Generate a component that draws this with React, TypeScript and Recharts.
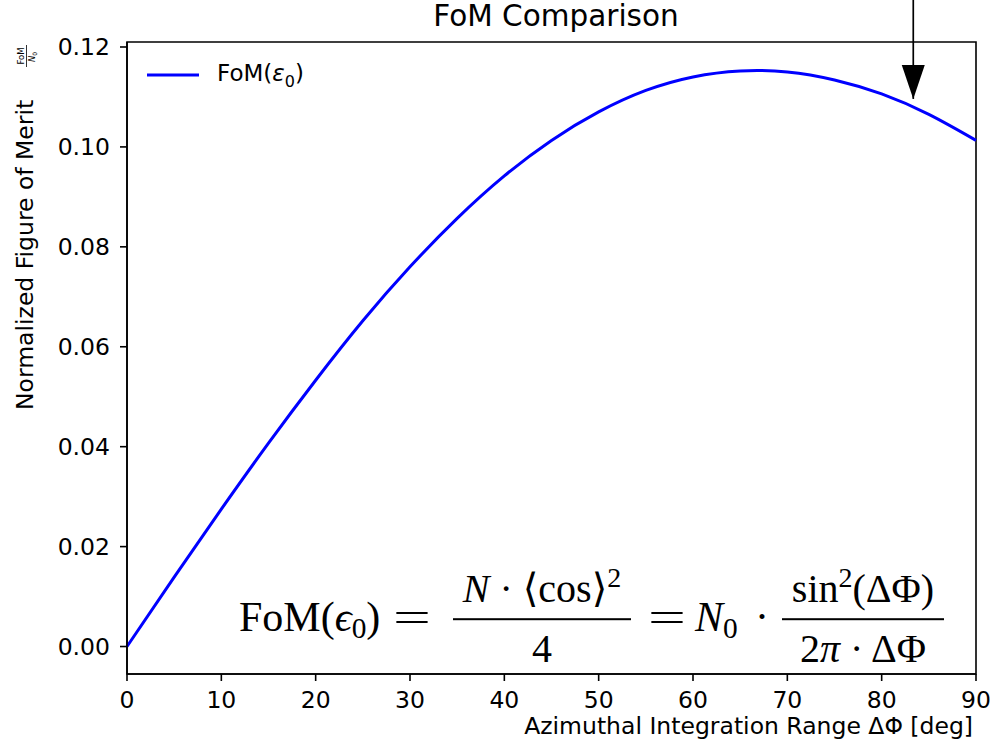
import React from 'react';
import {
  LineChart,
  Line,
  XAxis,
  YAxis,
  Legend,
  ReferenceArea,
  ReferenceLine,
  ReferenceDot,
} from 'recharts';

// azimuthal integration range in degrees
const degrees = [0, 5, 10, 15, 20, 25, 30, 35, 40, 45, 50, 55, 60, 65, 70, 75, 80, 85, 90];
// normalized FoM
const fomValues = [
  0, 0.0139, 0.0275, 0.0407, 0.0533, 0.0652, 0.076, 0.0857, 0.0942, 0.1013,
  0.107, 0.1113, 0.114, 0.1152, 0.115, 0.1134, 0.1106, 0.1065, 0.1013,
];
const xTicks = [0, 10, 20, 30, 40, 50, 60, 70, 80, 90];
const yTicks = [0, 0.02, 0.04, 0.06, 0.08, 0.1, 0.12];

// arrow annotation
const arrowX = 83.35;
const arrowTip = 0.1096;
const arrowTop = 0.1295;

const Y_MIN = -0.0055;
const Y_MAX = 0.121;

const data = degrees.map((d, i) => ({ deg: d, fom: fomValues[i] }));

const FONT = '"DejaVu Sans", sans-serif';
const SERIF = '"Liberation Serif", "DejaVu Serif", serif';

const tickStyle = { fontSize: 23.5, fill: '#000', fontFamily: FONT };

const YLabel = () => (
  <g fontFamily={FONT} fill="#000">
    <text transform="translate(33,410) rotate(-90)" fontSize={23.5}>
      Normalized Figure of Merit
    </text>
    <text transform="translate(24,56) rotate(-90)" fontSize={8.5} textAnchor="middle">
      FoM
    </text>
    <line x1={26.5} x2={26.5} y1={45} y2={67} stroke="#000" strokeWidth={0.8} />
    <text transform="translate(35,57) rotate(-90)" fontSize={8.5} textAnchor="middle">
      <tspan fontStyle="italic">N</tspan>
      <tspan fontSize={6} dy={1.5}>0</tspan>
    </text>
  </g>
);

const XLabel = () => (
  <text x={973} y={734} textAnchor="end" fontSize={23.5} fontFamily={FONT} fill="#000">
    Azimuthal Integration Range ΔΦ [deg]
  </text>
);

const LegendBox = () => (
  <div style={{ display: 'flex', alignItems: 'center', fontFamily: FONT, fontSize: 23, color: '#000' }}>
    <svg width={52} height={6} style={{ marginRight: 18 }}>
      <line x1={0} x2={52} y1={3} y2={3} stroke="#0000ff" strokeWidth={3} />
    </svg>
    <span>
      FoM(<i>ε</i>
      <sub style={{ fontSize: 16 }}>0</sub>)
    </span>
  </div>
);

const ArrowHead = (props: any) => {
  const { cx, cy } = props;
  return <polygon points={`${cx},${cy} ${cx - 11.5},${cy - 34} ${cx + 11.5},${cy - 34}`} fill="#000" />;
};

const sup: React.CSSProperties = { fontSize: '0.7em', position: 'relative', top: '-0.55em', lineHeight: 0, verticalAlign: 'baseline' };
const sub: React.CSSProperties = { fontSize: '0.7em', position: 'relative', top: '0.25em', lineHeight: 0, verticalAlign: 'baseline' };

const Piece = ({ left, top, stretch = 1, children }: { left: number; top: number; stretch?: number; children: React.ReactNode }) => (
  <div
    style={{
      position: 'absolute',
      left,
      top,
      transform: `translateY(-50%) scaleX(${stretch})`,
      transformOrigin: 'left center',
      fontFamily: SERIF,
      fontSize: 42,
      lineHeight: 1,
      whiteSpace: 'nowrap',
      color: '#000',
    }}
  >
    {children}
  </div>
);

const Frac = ({ left, width, num, den }: { left: number; width: number; num: React.ReactNode; den: React.ReactNode }) => (
  <div
    style={{
      position: 'absolute',
      left,
      top: 619,
      width,
      transform: 'translateY(-50%)',
      fontFamily: SERIF,
      fontSize: 40,
      lineHeight: 1.1,
      textAlign: 'center',
      whiteSpace: 'nowrap',
      color: '#000',
    }}
  >
    <div style={{ paddingBottom: 7 }}>{num}</div>
    <div style={{ height: 1.6, background: '#000' }} />
    <div style={{ paddingTop: 7 }}>{den}</div>
  </div>
);

const Formula = () => (
  <>
    <Piece left={239} top={617}>
      FoM(<i>ϵ</i>
      <span style={sub}>0</span>)
    </Piece>
    <Piece left={393} top={617} stretch={1.6}>=</Piece>
    <Frac
      left={453}
      width={178}
      num={
        <>
          <i>N</i> · ⟨cos⟩<span style={sup}>2</span>
        </>
      }
      den={<>4</>}
    />
    <Piece left={648} top={617} stretch={1.6}>=</Piece>
    <Piece left={695} top={617}>
      <i>N</i>
      <span style={sub}>0</span>
    </Piece>
    <Piece left={755} top={617}>·</Piece>
    <Frac
      left={782}
      width={162}
      num={
        <>
          sin<span style={sup}>2</span>(ΔΦ)
        </>
      }
      den={
        <>
          2<i>π</i> · ΔΦ
        </>
      }
    />
  </>
);

export default function App() {
  return (
    <div style={{ position: 'absolute', left: 0, top: 0, width: 990, height: 747, background: '#fff', fontFamily: FONT }}>
      <div
        style={{
          position: 'absolute',
          left: 356,
          width: 400,
          top: 2,
          textAlign: 'center',
          fontSize: 29.5,
          lineHeight: '29.5px',
          color: '#000',
        }}
      >
        FoM Comparison
      </div>
      <LineChart width={990} height={747} data={data} margin={{ top: 42, right: 14, bottom: 43, left: 27 }}>
        <XAxis
          dataKey="deg"
          type="number"
          domain={[0, 90]}
          ticks={xTicks}
          tickSize={7}
          tickMargin={10}
          tick={tickStyle}
          axisLine={{ stroke: '#000', strokeWidth: 1.6 }}
          tickLine={{ stroke: '#000', strokeWidth: 1.6 }}
          height={30}
          label={<XLabel />}
        />
        <YAxis
          type="number"
          domain={[Y_MIN, Y_MAX]}
          ticks={yTicks}
          tickFormatter={(v: number) => v.toFixed(2)}
          tickSize={7}
          tickMargin={10}
          tick={tickStyle}
          axisLine={{ stroke: '#000', strokeWidth: 1.6 }}
          tickLine={{ stroke: '#000', strokeWidth: 1.6 }}
          width={100}
          label={<YLabel />}
        />
        <ReferenceArea
          x1={0}
          x2={90}
          y1={Y_MIN}
          y2={Y_MAX}
          fill="none"
          stroke="#000"
          strokeWidth={1.6}
          ifOverflow="visible"
        />
        <Legend
          verticalAlign="middle"
          align="center"
          layout="horizontal"
          wrapperStyle={{ left: 147, top: 60, width: 'auto' }}
          content={<LegendBox />}
        />
        <Line
          type="natural"
          dataKey="fom"
          name="FoM(ε0)"
          stroke="#0000ff"
          strokeWidth={3}
          dot={false}
          isAnimationActive={false}
        />
        <ReferenceLine
          segment={[
            { x: arrowX, y: arrowTip },
            { x: arrowX, y: arrowTop },
          ]}
          stroke="#000"
          strokeWidth={1.7}
          ifOverflow="visible"
        />
        <ReferenceDot x={arrowX} y={arrowTip} ifOverflow="visible" shape={<ArrowHead />} />
      </LineChart>
      <Formula />
    </div>
  );
}
